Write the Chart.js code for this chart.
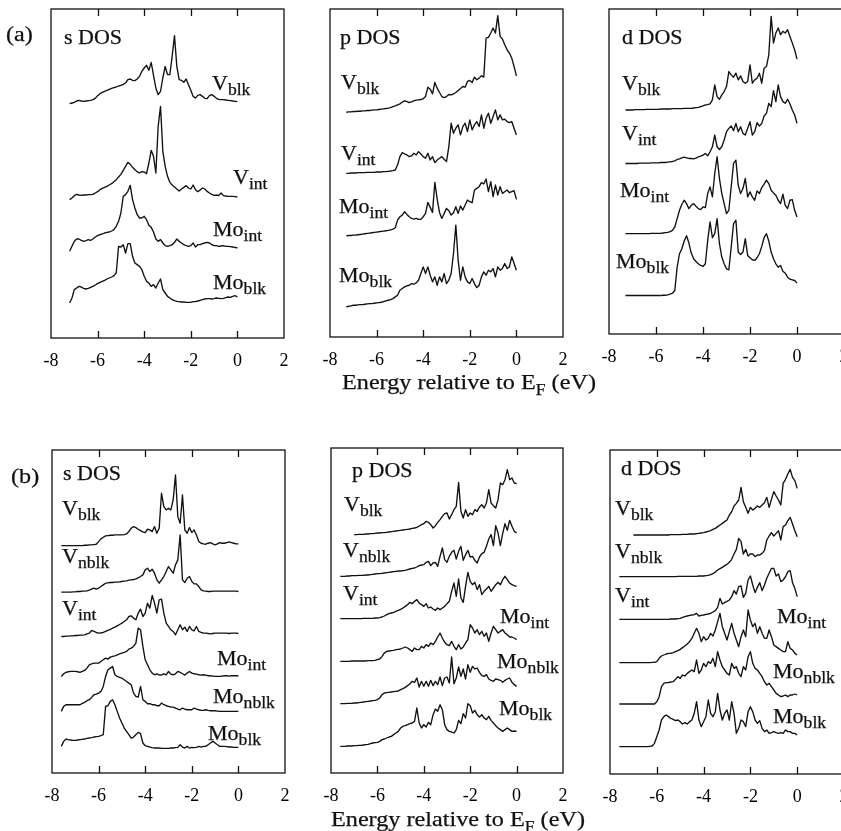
<!DOCTYPE html>
<html>
<head>
<meta charset="utf-8">
<script src="https://cdn.jsdelivr.net/npm/chart.js@4.4.1/dist/chart.umd.min.js"></script>
<style>
  html, body { margin: 0; padding: 0; background: #fff; overflow: hidden; }
  body { width: 841px; height: 831px; position: relative; font-family: "Liberation Serif", "Times New Roman", serif; color: #111; }
  canvas { position: absolute; }
  .txt { position: absolute; line-height: 1; white-space: nowrap; transform-origin: left bottom; transform: scaleX(1.1); -webkit-text-stroke: 0.25px #111; }
  .txt .sub { position: relative; }
</style>
</head>
<body>
<canvas id="aS"></canvas>
<canvas id="aP"></canvas>
<canvas id="aD"></canvas>
<canvas id="bS"></canvas>
<canvas id="bP"></canvas>
<canvas id="bD"></canvas>
<script>
// Energy grids (eV relative to E_F), 0.1 eV steps
const energyA = [];
for (let k = -73; k <= 0; k++) energyA.push(k / 10);   // -7.3 .. 0
const energyB = [];
for (let k = -76; k <= 0; k++) energyB.push(k / 10);   // -7.6 .. 0

const xTicks = [-8, -6, -4, -2, 0, 2];

// ---------- (a) s DOS ----------
const aS_Vblk = [null,0,2,4,
  8,10,8,7,8,9,10,12,16,24,
  30,34,37,40,43,46,48,50,53,55,
  58,62,72,74,70,69,74,82,97,107,
  115,100,124,85,47,27,37,77,112,87,
  87,142,204,112,72,70,64,74,57,40,
  22,17,25,27,22,16,15,24,27,22,
  16,13,12,12,11,10,9,8,7,6];
const aS_Vint = [null,0,5,12,
  16,14,13,14,14,15,15,16,20,24,
  30,34,37,40,44,48,54,60,68,76,
  88,100,112,106,97,90,84,80,84,83,
  78,110,148,130,80,220,280,145,100,70,
  52,44,38,32,26,32,37,42,35,32,
  44,30,24,29,35,32,25,20,16,13,
  14,12,20,12,11,10,10,10,9,8];
const aS_Moint = [null,0,15,30,
  37,37,33,30,32,35,33,37,43,47,
  50,52,55,57,58,61,65,75,90,115,
  165,170,180,198,155,130,110,100,100,105,
  95,78,72,58,37,30,35,25,17,15,
  17,20,27,37,30,25,20,17,15,17,
  25,13,20,20,23,25,27,25,20,17,
  17,15,16,17,15,15,14,13,12,10];
const aS_Moblk = [null,0,15,40,
  45,50,48,44,42,44,47,50,54,58,
  62,65,68,72,75,78,82,90,170,168,
  175,150,178,178,140,120,115,110,100,80,
  65,60,50,55,45,60,72,40,30,20,
  15,10,7,5,4,3,3,2,2,2,
  4,4,6,8,10,12,13,13,12,13,
  15,14,13,14,16,18,17,20,22,18];

// ---------- (a) p DOS ----------
const aP_Vblk = [0,1,1,2,
  2,3,3,4,4,5,5,6,7,7,
  8,9,10,11,12,14,17,19,22,25,
  30,34,32,29,31,34,36,37,38,40,
  47,75,69,55,89,72,59,47,44,47,
  53,52,55,59,65,71,77,75,92,95,
  89,105,97,102,109,105,222,224,237,252,
  237,289,227,219,202,187,177,162,137,109];
const aP_Vint = [0,0,1,1,
  1,2,2,2,2,3,3,3,3,4,
  4,4,5,5,6,7,8,10,25,50,
  62,58,55,50,52,60,55,65,58,50,
  45,60,40,50,32,40,45,50,42,35,
  80,150,120,135,145,115,140,150,125,160,
  130,145,155,140,175,135,165,180,150,170,
  190,160,175,160,162,155,152,155,135,115];
const aP_Moint = [0,1,1,2,
  2,3,4,5,6,7,8,9,10,11,
  12,13,14,15,16,18,20,24,47,57,
  62,72,64,57,52,50,52,49,49,57,
  67,100,85,70,160,110,70,52,67,82,
  75,62,69,87,67,89,77,92,107,102,
  99,137,142,147,159,155,170,132,162,117,
  152,122,147,127,132,137,129,132,135,109];
const aP_Moblk = [0,2,3,5,
  5,6,7,7,8,9,10,10,11,12,
  13,14,16,18,20,22,25,30,35,50,
  55,60,63,65,70,68,72,80,100,120,
  100,120,95,75,90,65,90,75,100,70,
  80,100,160,245,140,80,120,90,75,70,
  85,70,58,65,90,105,95,110,105,115,
  90,120,110,115,130,115,120,150,130,110];

// ---------- (a) d DOS ----------
const aD_Vblk = [0,0,0,0,
  1,1,1,1,1,2,2,2,2,2,
  2,3,3,3,3,3,4,4,4,4,
  4,5,5,5,5,6,7,8,10,12,
  15,16,18,30,75,40,32,45,55,70,
  115,105,98,110,90,102,85,80,85,135,
  80,90,95,110,80,125,130,165,280,200,
  230,245,225,235,230,240,220,200,180,152];
const aD_Vint = [0,0,0,0,
  0,0,1,1,1,1,1,2,2,2,
  2,3,3,3,4,5,6,8,12,14,
  17,19,17,15,15,14,16,20,22,25,
  30,23,35,50,85,50,42,50,70,95,
  105,112,98,120,95,110,90,85,105,125,
  85,95,122,112,120,142,150,180,170,218,
  185,235,200,185,180,192,178,160,145,120];
const aD_Moint = [0,0,0,0,
  0,0,0,0,0,0,0,1,1,1,
  1,1,2,3,4,6,10,20,45,70,
  88,100,90,75,85,90,82,75,72,80,
  78,120,140,110,180,230,165,120,90,60,
  70,140,210,220,145,120,135,165,110,125,
  110,100,128,120,138,148,160,150,130,122,
  115,100,90,118,85,75,100,102,70,50];
const aD_Moblk = [0,0,0,0,
  0,0,0,0,0,0,0,0,0,0,
  0,0,1,1,2,4,7,15,85,125,
  140,163,179,157,127,110,102,95,90,87,
  95,165,220,173,185,230,155,115,95,80,
  77,145,215,225,130,123,130,170,120,113,
  107,105,113,125,147,173,185,163,130,110,
  95,85,90,73,67,55,49,47,45,37];

// ---------- (b) s DOS ----------
const bS_Vblk = [0,0,0,0,0,0,0,
  0,0,0,1,1,2,2,3,4,12,
  20,25,29,30,31,31,32,32,32,32,
  33,35,42,52,57,54,49,45,41,39,
  49,47,42,57,37,52,157,117,107,112,
  107,137,212,87,67,152,47,37,54,39,
  47,32,12,7,5,4,7,9,5,2,
  5,9,7,7,9,11,9,7,5,5];
const bS_Vnblk = [0,0,0,0,0,1,1,
  2,2,3,3,4,6,9,12,9,12,
  17,22,27,28,29,29,30,30,31,32,
  33,34,36,37,38,40,43,47,52,67,
  72,62,69,57,37,27,37,47,62,77,
  67,57,82,97,172,37,29,42,47,32,
  25,25,17,7,4,3,2,2,3,3,
  3,3,3,3,3,3,3,3,3,2];
const bS_Vint = [0,0,1,1,2,2,3,
  3,4,4,5,8,10,18,15,12,10,
  11,12,15,18,21,25,28,32,36,40,
  45,50,60,62,55,50,70,82,60,70,
  100,85,123,100,70,110,112,70,40,30,
  20,15,5,20,35,20,28,15,30,20,
  17,30,15,12,10,10,9,8,9,10,
  10,10,10,10,10,9,10,10,10,9];
const bS_Moint = [0,8,12,14,15,15,15,
  14,12,15,18,25,35,38,40,40,40,
  45,50,55,52,58,60,62,65,68,70,
  72,75,82,85,90,100,145,140,90,50,
  35,20,10,5,8,5,4,8,5,15,
  7,5,8,15,12,8,4,10,15,10,
  8,7,5,4,5,4,2,2,1,0,
  0,0,1,2,2,1,2,2,2,2];
const bS_Monblk = [0,15,20,20,20,20,20,
  20,20,24,27,32,35,42,50,52,55,
  60,75,105,125,130,135,110,105,102,100,
  95,90,85,80,55,45,43,75,35,30,
  23,23,20,20,17,17,25,20,17,15,
  13,13,10,7,5,10,7,5,5,5,
  10,7,5,3,3,5,3,2,2,2,
  1,0,0,0,0,0,0,0,0,0];
const bS_Moblk = [7,22,29,27,26,25,25,
  26,27,28,29,31,32,33,35,36,37,
  39,42,127,129,142,147,132,112,92,77,
  62,52,42,32,35,42,49,45,17,9,
  7,5,3,2,2,2,1,1,1,1,
  2,2,3,4,12,5,2,7,2,4,
  3,4,7,5,7,7,12,17,22,17,
  12,7,7,7,6,5,5,4,4,4];

// ---------- (b) p DOS ----------
const bP_Vblk = [null,null,null,null,null,null,0,
  0,1,1,1,2,2,3,3,4,5,
  5,6,6,7,8,9,10,11,12,13,
  14,15,16,17,19,20,22,26,30,33,
  40,37,30,20,27,37,45,55,63,65,
  47,60,75,85,157,70,50,75,55,65,
  60,75,70,83,90,80,95,135,95,87,
  80,105,155,150,165,195,165,170,155,153];
const bP_Vnblk = [0,0,0,1,1,2,2,
  2,3,3,3,4,4,5,6,7,8,
  8,9,10,11,12,13,14,15,16,16,
  17,18,20,22,24,25,28,32,34,35,
  42,45,32,40,42,30,60,85,50,42,
  60,72,78,52,75,90,48,65,78,58,
  60,48,40,58,68,72,90,112,125,92,
  152,130,92,128,158,138,168,150,135,130];
const bP_Vint = [0,0,0,0,0,0,0,
  0,0,0,1,1,1,1,1,2,2,
  3,5,8,12,15,17,19,22,25,28,
  32,37,42,49,45,52,57,47,42,37,
  45,32,35,29,25,32,27,32,37,45,
  52,82,107,67,119,62,49,97,139,112,
  102,109,87,102,72,82,89,97,82,92,
  102,109,102,117,127,117,107,102,99,97];
const bP_Moint = [0,0,0,0,0,1,1,
  1,1,1,1,1,2,2,2,3,5,
  7,15,25,30,31,32,33,35,36,37,
  40,43,40,35,30,40,35,35,45,40,
  50,45,55,50,60,73,85,70,57,50,
  47,60,45,35,50,37,43,55,65,110,
  100,85,95,80,90,75,85,60,85,105,
  95,85,90,95,85,80,73,73,70,65];
const bP_Monblk = [0,0,0,1,1,1,2,
  2,3,4,5,6,7,8,9,10,12,
  17,27,32,33,34,35,36,37,38,42,
  45,49,54,60,67,64,77,50,67,52,
  67,52,70,54,67,57,80,54,77,80,
  62,140,60,77,110,82,104,74,117,94,
  112,104,107,94,84,82,87,74,70,67,
  74,72,70,64,70,74,77,64,57,52];
const bP_Moblk = [0,0,0,1,1,1,2,
  2,3,3,4,5,6,8,10,11,12,
  15,20,22,25,28,30,35,40,45,55,
  60,62,65,68,70,75,115,70,55,65,
  58,72,65,95,112,105,125,110,65,50,
  45,43,40,50,78,68,98,85,128,122,
  100,108,95,88,95,85,80,90,78,70,
  62,55,50,45,50,55,50,45,46,45];

// ---------- (b) d DOS ----------
const bD_Vblk = [null,null,null,null,null,null,0,
  0,0,0,0,0,0,0,0,0,0,
  0,0,0,0,0,1,1,1,1,1,
  2,2,2,3,3,3,4,5,6,7,
  9,11,13,17,20,25,30,35,40,45,
  60,70,87,95,105,143,100,83,65,83,
  75,80,87,83,90,97,113,83,107,130,
  117,105,90,155,167,183,197,173,163,140];
const bD_Vnblk = [0,0,0,0,0,0,0,
  0,0,0,0,0,0,0,0,0,0,
  0,0,0,0,0,0,0,0,1,1,
  1,1,1,1,1,1,1,2,2,2,
  3,4,6,9,14,20,24,28,33,37,
  43,52,68,82,115,105,68,82,62,68,
  68,60,65,65,70,78,110,122,132,122,
  130,138,110,150,155,168,178,158,138,120];
const bD_Vint = [0,0,0,0,0,0,0,
  0,0,0,0,0,0,0,0,0,0,
  0,0,0,0,0,1,1,1,2,3,
  6,8,10,12,13,14,18,10,12,13,
  15,16,18,22,26,36,63,46,50,54,
  58,68,86,76,98,100,66,78,118,130,
  103,80,96,110,86,103,123,138,153,153,
  130,136,113,118,128,143,146,110,93,68];
const bD_Moint = [0,0,0,0,0,0,0,
  0,0,0,0,0,0,0,1,1,3,
  13,20,23,26,28,28,30,33,36,40,
  45,50,56,63,73,88,103,88,63,78,
  68,73,88,80,98,123,148,108,88,68,
  93,118,88,68,48,78,98,78,158,128,
  108,118,88,108,88,73,73,98,78,53,
  48,43,38,33,33,63,43,38,28,23];
const bD_Monblk = [0,0,0,0,0,0,0,
  0,0,0,0,0,0,0,0,0,7,
  22,52,62,64,64,66,67,74,82,77,
  87,84,92,97,102,97,132,92,102,122,
  112,127,122,137,112,157,132,112,102,92,
  87,122,107,112,92,82,112,102,142,157,
  122,107,102,92,82,67,57,62,52,42,
  32,27,22,24,27,22,27,27,30,27];
const bD_Moblk = [0,0,0,0,0,0,0,
  0,0,0,0,0,0,1,2,10,30,
  50,80,90,95,90,85,82,78,80,75,
  68,72,68,75,80,100,135,80,60,75,
  90,140,100,90,105,160,110,80,100,110,
  80,135,100,40,55,80,75,60,105,120,
  105,80,70,78,55,45,50,40,42,45,
  42,40,42,40,50,45,45,40,40,35];

// vertical offsets of the stacked curves (same arbitrary units)
const aS_offsets = [703, 415, 260, 105];
const aP_offsets = [673, 490, 303, 90];
const aD_offsets = [670, 510, 300, 115];
const bS_offsets = [683, 543, 410, 290, 185, 73];
const bP_offsets = [715, 590, 463, 335, 208, 80];
const bD_offsets = [717, 592, 464, 334, 210, 82];

// ---------- layout ----------
const INK = '#111';
const PAD_X = 24, PAD_TOP = 4, AXIS_H = 30;

const panels = [
  { id: 'aS', box: [51, 9, 284, 338],  ymax: 987, energy: energyA, offsets: aS_offsets, series: [aS_Vblk, aS_Vint, aS_Moint, aS_Moblk] },
  { id: 'aP', box: [330, 9, 563, 337], ymax: 982, energy: energyA, offsets: aP_offsets, series: [aP_Vblk, aP_Vint, aP_Moint, aP_Moblk] },
  { id: 'aD', box: [609, 9, 844, 334], ymax: 972, energy: energyA, offsets: aD_offsets, series: [aD_Vblk, aD_Vint, aD_Moint, aD_Moblk] },
  { id: 'bS', box: [52, 450, 285, 773], ymax: 970, energy: energyB, offsets: bS_offsets, series: [bS_Vblk, bS_Vnblk, bS_Vint, bS_Moint, bS_Monblk, bS_Moblk] },
  { id: 'bP', box: [331, 448, 563, 773], ymax: 975, energy: energyB, offsets: bP_offsets, series: [bP_Vblk, bP_Vnblk, bP_Vint, bP_Moint, bP_Monblk, bP_Moblk] },
  { id: 'bD', box: [610, 450, 844, 774], ymax: 972, energy: energyB, offsets: bD_offsets, series: [bD_Vblk, bD_Vnblk, bD_Vint, bD_Moint, bD_Monblk, bD_Moblk] }
];

// text: [main, subscript, left, baseline, size]
const texts = [
  ['(a)', '', 6, 41, 22], ['(b)', '', 11, 483, 22],
  ['s DOS', '', 64, 44, 20], ['p DOS', '', 340, 44, 20], ['d DOS', '', 622, 44, 20],
  ['s DOS', '', 63, 480, 20], ['p DOS', '', 352, 477, 20], ['d DOS', '', 621, 475, 20],
  ['V', 'blk', 212, 90, 20], ['V', 'int', 233, 184, 20], ['Mo', 'int', 213, 236, 20], ['Mo', 'blk', 213, 289, 20],
  ['V', 'blk', 341, 89, 20], ['V', 'int', 341, 160, 20], ['Mo', 'int', 339, 213, 20], ['Mo', 'blk', 339, 282, 20],
  ['V', 'blk', 622, 90, 20], ['V', 'int', 622, 140, 20], ['Mo', 'int', 620, 197, 20], ['Mo', 'blk', 616, 268, 20],
  ['V', 'blk', 62, 515, 20], ['V', 'nblk', 62, 563, 20], ['V', 'int', 62, 615, 20],
  ['Mo', 'int', 217, 665, 20], ['Mo', 'nblk', 213, 703, 20], ['Mo', 'blk', 208, 740, 20],
  ['V', 'blk', 344, 511, 20], ['V', 'nblk', 343, 557, 20], ['V', 'int', 343, 600, 20],
  ['Mo', 'int', 500, 623, 20], ['Mo', 'nblk', 497, 668, 20], ['Mo', 'blk', 499, 715, 20],
  ['V', 'blk', 615, 515, 20], ['V', 'nblk', 615, 558, 20], ['V', 'int', 615, 602, 20],
  ['Mo', 'int', 777, 623, 20], ['Mo', 'nblk', 773, 678, 20], ['Mo', 'blk', 773, 723, 20]
];
const axisTitles = [[342, 389], [331, 826]];

// frame with inward ticks on top and bottom
const framePlugin = {
  id: 'frame',
  afterDraw(chart) {
    const { ctx, chartArea: a, scales: { x } } = chart;
    ctx.save();
    ctx.strokeStyle = INK;
    ctx.lineWidth = 1.3;
    ctx.strokeRect(a.left, a.top, a.right - a.left, a.bottom - a.top);
    ctx.beginPath();
    xTicks.slice(1, -1).forEach(v => {
      const px = Math.round(x.getPixelForValue(v)) + 0.5;
      ctx.moveTo(px, a.top); ctx.lineTo(px, a.top + 7);
      ctx.moveTo(px, a.bottom); ctx.lineTo(px, a.bottom - 7);
    });
    ctx.stroke();
    ctx.restore();
  }
};

function buildPanel(p) {
  const [left, top, right, bottom] = p.box;
  const cv = document.getElementById(p.id);
  cv.width = right - left + PAD_X * 2;
  cv.height = bottom - top + PAD_TOP + AXIS_H;
  cv.style.left = (left - PAD_X) + 'px';
  cv.style.top = (top - PAD_TOP) + 'px';

  p.series.forEach((vals, i) => {
    if (vals.length !== p.energy.length) throw new Error(p.id + ' series ' + i + ' has ' + vals.length + ' points');
  });

  return new Chart(cv, {
    type: 'line',
    data: {
      datasets: p.series.map((vals, i) => ({
        data: p.energy.map((e, k) => ({ x: e, y: vals[k] === null ? null : vals[k] + p.offsets[i] })),
        borderColor: INK,
        borderWidth: 1.35,
        pointRadius: 0,
        tension: 0,
        fill: false,
        borderJoinStyle: 'round'
      }))
    },
    options: {
      responsive: false,
      animation: false,
      devicePixelRatio: 1,
      layout: { padding: { left: PAD_X, right: PAD_X, top: PAD_TOP, bottom: 0 } },
      plugins: { legend: { display: false }, tooltip: { enabled: false } },
      scales: {
        x: {
          type: 'linear', min: -8, max: 2,
          afterBuildTicks: s => { s.ticks = xTicks.map(v => ({ value: v })); },
          afterFit: s => { s.height = AXIS_H; },
          grid: { display: false },
          border: { display: false },
          ticks: {
            color: '#000', padding: 4, maxRotation: 0, autoSkip: false,
            font: { family: 'Liberation Serif', size: 18 },
            callback: v => String(v)
          }
        },
        y: { display: false, min: 0, max: p.ymax }
      }
    },
    plugins: [framePlugin]
  });
}

panels.forEach(buildPanel);

// text labels
function addText(main, sub, left, baseline, size) {
  const d = document.createElement('div');
  d.className = 'txt';
  d.style.fontSize = size + 'px';
  d.style.left = left + 'px';
  d.style.top = (baseline - 0.84 * size) + 'px';
  d.textContent = main;
  if (sub) {
    const s = document.createElement('span');
    s.className = 'sub';
    s.style.fontSize = Math.round(size * 0.78) + 'px';
    s.style.top = Math.round(size * 0.27) + 'px';
    s.textContent = sub;
    d.appendChild(s);
  }
  document.body.appendChild(d);
}
texts.forEach(t => addText(...t));

axisTitles.forEach(([left, baseline]) => {
  const d = document.createElement('div');
  d.className = 'txt';
  d.style.fontSize = '22px';
  d.style.left = left + 'px';
  d.style.top = (baseline - 0.84 * 22) + 'px';
  d.innerHTML = 'Energy relative to E<span class="sub" style="font-size:16px;top:6px">F</span> (eV)';
  document.body.appendChild(d);
});
</script>
</body>
</html>
